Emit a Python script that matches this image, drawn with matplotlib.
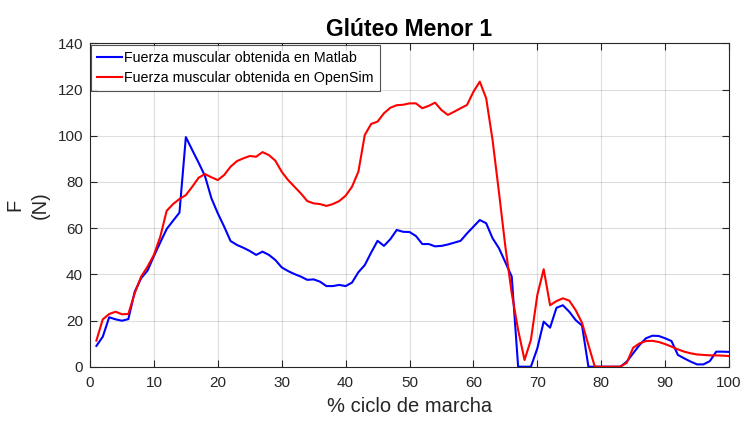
import matplotlib
matplotlib.use("Agg")
import matplotlib.pyplot as plt

plt.rcParams['font.family'] = ['Liberation Sans', 'DejaVu Sans']

x = list(range(1, 101))
matlab = [9, 13, 21.4, 20.5, 19.9, 20.6, 32.5, 38.3, 41.6, 47.9,
          53.8, 59.6, 63.2, 66.7, 99.4, 93.8, 88.3, 82.5, 72.9, 66.4,
          60.6, 54.4, 52.7, 51.5, 50.1, 48.4, 49.8, 48.4, 46.2, 43.0,
          41.4, 40.1, 39.0, 37.6, 37.8, 36.8, 34.9, 34.9, 35.4, 34.9,
          36.4, 40.9, 44.0, 49.4, 54.5, 52.3, 55.2, 59.2, 58.4, 58.3,
          56.6, 53.1, 53.1, 52.1, 52.3, 52.9, 53.7, 54.5, 57.7, 60.6,
          63.5, 62.1, 55.6, 51.3, 45.2, 39.0, 0, 0, 0, 7.9,
          19.5, 16.9, 25.5, 26.6, 23.8, 20.2, 17.8, 0, 0, 0,
          0, 0, 0, 2.2, 5.8, 9.4, 12.3, 13.4, 13.3, 12.3,
          11.1, 5.1, 3.6, 2.2, 1.0, 1.0, 2.4, 6.5, 6.5, 6.4]
opensim = [11.3, 20.5, 22.8, 23.8, 22.7, 22.8, 31.8, 39.0, 43.3, 48.4,
           56.3, 67.5, 70.4, 72.6, 74.3, 77.9, 81.8, 83.4, 82.0, 80.8,
           83.0, 86.6, 89.0, 90.2, 91.2, 90.9, 92.9, 91.6, 89.2, 84.4,
           80.8, 77.9, 75.0, 71.7, 70.7, 70.4, 69.6, 70.4, 71.7, 74.0,
           77.9, 84.4, 100.3, 105.1, 106.1, 109.7, 112.1, 113.2, 113.4, 114.0,
           114.0, 111.9, 112.9, 114.3, 111.1, 109.0, 110.4, 111.9, 113.3, 119.0,
           123.4, 116.2, 98.1, 75.5, 52.0, 31.8, 15.9, 2.9, 11.6, 31.0,
           42.2, 26.6, 28.4, 29.6, 28.6, 24.5, 19.0, 9.4, 0, 0,
           0, 0, 0, 1.7, 8.2, 10.1, 11.1, 11.2, 10.7, 9.8,
           8.7, 7.5, 6.5, 5.8, 5.3, 5.1, 4.9, 4.9, 4.8, 4.6]

title = "Glúteo Menor 1"
xlabel = "% ciclo de marcha"
ylabel = "F\n(N)"
labels = ["Fuerza muscular obtenida en Matlab", "Fuerza muscular obtenida en OpenSim"]
xticks = list(range(0, 101, 10))
yticks = list(range(0, 141, 20))

fig = plt.figure(figsize=(7.44, 4.22), dpi=100)
ax = fig.add_axes([90/744, 1-366.7/422, (729-90)/744, (366.7-43.3)/422])

axc = '#262626'
ax.plot(x, matlab, color=(0, 0, 1), lw=1.5, label=labels[0])
ax.plot(x, opensim, color=(1, 0, 0), lw=1.5, label=labels[1])

ax.set_xlim(0, 100)
ax.set_ylim(0, 140)
ax.set_xticks(xticks)
ax.set_yticks(yticks)
ax.grid(True, color=axc, alpha=0.15, lw=0.8)
ax.tick_params(direction='in', top=True, right=True, length=5, width=0.8,
               labelsize=11, colors=axc, labelcolor=axc)
ax.tick_params(axis='x', pad=6.5)
ax.tick_params(axis='y', pad=5)
for s in ax.spines.values():
    s.set_color(axc)
    s.set_linewidth(0.8)

ax.set_title(title, fontsize=16.5, fontweight='bold', color='black', pad=5)
ax.set_xlabel(xlabel, fontsize=14.5, color=axc, labelpad=5)
ax.set_ylabel(ylabel, fontsize=14.5, color=axc, linespacing=1.43)
ax.yaxis.set_label_coords(-0.0626, 0.5)

leg = ax.legend(loc='upper left', fontsize=10.3, frameon=True, fancybox=False,
                edgecolor=axc, borderaxespad=0.1, handlelength=1.75,
                handletextpad=0.12, borderpad=0.42, labelspacing=0.45)
leg.get_frame().set_linewidth(0.8)

fig.savefig("out.png", dpi=100)
